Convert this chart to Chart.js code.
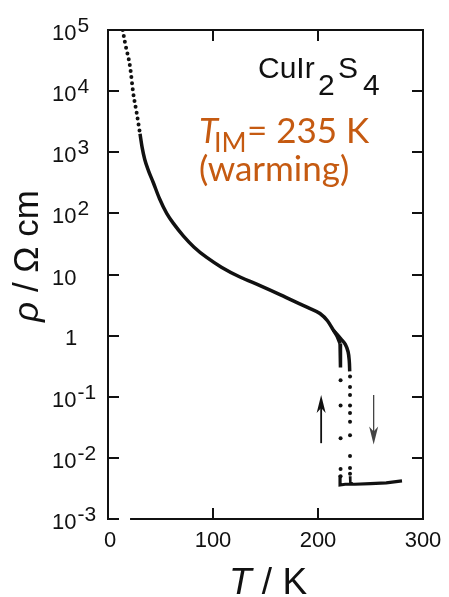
<!DOCTYPE html>
<html><head><meta charset="utf-8">
<script src="https://cdn.jsdelivr.net/npm/chart.js@4.4.1/dist/chart.umd.min.js"></script>
<style>html,body{margin:0;padding:0;background:#fff;overflow:hidden}</style>
</head><body>
<canvas id="c" width="449" height="597"></canvas>
<script>
// ---- data (T in K, rho in ohm cm) ----
const upperT   = [14, 16.2, 21, 24.1, 27.3, 30.5];
const upperRho = [1.0e5, 6.2e4, 2.5e4, 9.1e3, 4.4e3, 2.0e3];

const mainT   = [30.5, 32.5, 35, 38.5, 43.1, 49, 55.9, 63, 71.7, 82, 94.0, 108, 125.7, 144.8, 163.8, 176.5, 190, 201.9, 209, 214.6, 218.5, 221];
const mainRho = [2.0e3, 1.2e3, 7.6e2, 5.0e2, 3.2e2, 1.75e2, 1.0e2, 6.6e1, 4.3e1, 2.8e1, 1.9e1, 1.32e1, 9.1, 6.6, 4.7, 3.7, 2.9, 2.3, 1.75, 1.23, 0.95, 0.74];

const coolSolidT   = [221, 221.3, 221.5];
const coolSolidRho = [0.74, 0.45, 0.30];
const warmSolidT   = [214.6, 222, 226, 228.6, 229.8, 230.2];
const warmSolidRho = [1.23, 0.88, 0.72, 0.55, 0.38, 0.26];

const coolDotT   = [221.5, 221.5, 221.5, 221.5, 221.5];
const coolDotRho = [0.186, 0.072, 0.021, 0.0066, 0.0050];
const warmDotT   = [230.5, 230.5, 230.5, 230.5, 230.5, 230.5, 230.5, 230.5, 230.5, 230.5];
const warmDotRho = [0.214, 0.145, 0.107, 0.072, 0.054, 0.039, 0.0234, 0.0107, 0.0068, 0.0055];

const metalT   = [221, 221, 226, 235, 250, 265, 280];
const metalRho = [0.0052, 0.0036, 0.0037, 0.0037, 0.0038, 0.0039, 0.0042];
const hookT    = [230.5, 230.8, 233];
const hookRho  = [0.0050, 0.0039, 0.0038];

const arrowT    = [203, 253];
const arrowFrom = [0.0174, 0.107];
const arrowTo   = [0.107, 0.0166];

const xTickValues = [0, 100, 200, 300];
const xTickLabels = ['0', '100', '200', '300'];
const yTickValues = [1e-3, 1e-2, 1e-1, 1, 10, 100, 1e3, 1e4, 1e5];
const yTickBase   = ['10', '10', '10', '1', '10', '10', '10', '10', '10'];
const yTickExp    = ['-3', '-2', '-1', '', '', '2', '3', '4', '5'];

const pts = (xs, ys) => xs.map((v, i) => ({x: v, y: ys[i]}));
const INK = '#111';
const ORANGE = '#C55A11';

const deco = {
  id: 'deco',
  afterDraw(chart) {
    const {ctx, chartArea: a, scales: {x, y}} = chart;
    ctx.save();
    ctx.strokeStyle = INK; ctx.fillStyle = INK;
    ctx.lineWidth = 2; ctx.lineCap = 'butt';
    // frame (bottom line has a small gap near the origin)
    ctx.beginPath();
    ctx.moveTo(a.left + 4, a.bottom);
    ctx.lineTo(a.left, a.bottom);
    ctx.lineTo(a.left, a.top);
    ctx.lineTo(a.right, a.top);
    ctx.lineTo(a.right, a.bottom);
    ctx.lineTo(x.getPixelForValue(21), a.bottom);
    ctx.stroke();
    // inward ticks
    const L = 11;
    ctx.beginPath();
    yTickValues.forEach(v => {
      const py = Math.round(y.getPixelForValue(v));
      ctx.moveTo(a.left, py); ctx.lineTo(a.left + L, py);
      ctx.moveTo(a.right, py); ctx.lineTo(a.right - L, py);
    });
    xTickValues.forEach(v => {
      if (v === 0 || v === 300) return;
      const px = Math.round(x.getPixelForValue(v));
      ctx.moveTo(px, a.bottom); ctx.lineTo(px, a.bottom - L);
      ctx.moveTo(px, a.top); ctx.lineTo(px, a.top + L);
    });
    ctx.stroke();
    // y tick labels
    ctx.textAlign = 'left'; ctx.textBaseline = 'alphabetic';
    yTickValues.forEach((v, i) => {
      const py = y.getPixelForValue(v);
      ctx.font = '22px "Liberation Sans", Arial, sans-serif';
      if (yTickBase[i] === '1') {
        ctx.fillText('1', 65, py + 9);
        return;
      }
      const bx = 52;
      ctx.fillText(yTickBase[i], bx, py + 10);
      const w = ctx.measureText(yTickBase[i]).width;
      if (yTickExp[i]) {
        ctx.font = '21px "Liberation Sans", Arial, sans-serif';
        ctx.fillText(yTickExp[i], bx + w + 1, py + 2);
      }
    });
    // x tick labels
    ctx.textAlign = 'center';
    ctx.font = '22px "Liberation Sans", Arial, sans-serif';
    xTickValues.forEach((v, i) => {
      ctx.fillText(xTickLabels[i], x.getPixelForValue(v) + (v === 0 ? 2 : 0), 547);
    });
    // x axis title: T / K
    ctx.textAlign = 'left';
    const f1 = 'italic 37px "Liberation Sans", Arial, sans-serif';
    const f2 = '37px "Liberation Sans", Arial, sans-serif';
    ctx.font = f1; const wT = ctx.measureText('T').width;
    ctx.font = f2; const wR = ctx.measureText(' / K').width;
    let sx = 268 - (wT + wR) / 2;
    ctx.font = f1; ctx.fillText('T', sx, 594);
    ctx.font = f2; ctx.fillText(' / K', sx + wT, 594);
    // y axis title: rho / Ohm cm (rotated)
    ctx.save();
    ctx.translate(38, 256);
    ctx.rotate(-Math.PI / 2);
    const g1 = 'italic 35px "Liberation Sans", Arial, sans-serif';
    const g2 = '35px "Liberation Sans", Arial, sans-serif';
    ctx.font = g1; const wr = ctx.measureText('ρ').width;
    ctx.font = g2; const wo = ctx.measureText(' / Ω cm').width;
    const s0 = -(wr + wo) / 2;
    ctx.font = g1; ctx.fillText('ρ', s0, 0);
    ctx.font = g2; ctx.fillText(' / Ω cm', s0 + wr, 0);
    ctx.restore();
    // compound name CuIr2S4
    ctx.font = '30px "Liberation Sans", Arial, sans-serif';
    ctx.fillText('CuIr', 258, 78);
    ctx.fillText('2', 318, 95);
    ctx.fillText('S', 338, 78);
    ctx.fillText('4', 363, 95);
    // orange annotation
    ctx.fillStyle = ORANGE;
    ctx.font = 'italic 35px Lato, "Open Sans", sans-serif';
    ctx.fillText('T', 199, 143);
    ctx.font = '27px Lato, "Open Sans", sans-serif';
    ctx.fillText('IM', 214, 152);
    ctx.font = '35px Lato, "Open Sans", sans-serif';
    ctx.fillText('= 235 K', 247, 143);
    ctx.fillText('(warming)', 199, 181);
    // arrows
    arrowT.forEach((t, i) => {
      const px = x.getPixelForValue(t);
      const y0 = y.getPixelForValue(arrowFrom[i]);
      const y1 = y.getPixelForValue(arrowTo[i]);
      const dir = y1 < y0 ? -1 : 1;
      ctx.strokeStyle = i === 0 ? INK : '#444';
      ctx.fillStyle = i === 0 ? INK : '#444';
      ctx.lineWidth = i === 0 ? 1.8 : 1.3;
      ctx.beginPath(); ctx.moveTo(px, y0); ctx.lineTo(px, y1 - dir * 8); ctx.stroke();
      ctx.beginPath();
      ctx.moveTo(px, y1);
      ctx.lineTo(px - 4.5, y1 - dir * 18);
      ctx.lineTo(px, y1 - dir * 13);
      ctx.lineTo(px + 4.5, y1 - dir * 18);
      ctx.closePath(); ctx.fill();
    });
    ctx.restore();
  }
};

const lineDs = (data, extra) => Object.assign({
  data, showLine: true, borderColor: INK, backgroundColor: INK,
  borderWidth: 3.5, pointRadius: 0, tension: 0
}, extra || {});
const dotDs = (data) => ({
  data, showLine: false, pointRadius: 2, pointBackgroundColor: INK,
  pointBorderWidth: 0, pointStyle: 'circle'
});

new Chart(document.getElementById('c'), {
  type: 'scatter',
  data: {
    datasets: [
      lineDs(pts(upperT, upperRho), {borderDash: [0, 6], borderCapStyle: 'round', borderWidth: 4, cubicInterpolationMode: 'monotone'}),
      lineDs(pts(mainT, mainRho), {cubicInterpolationMode: 'monotone'}),
      lineDs(pts(coolSolidT, coolSolidRho)),
      lineDs(pts(warmSolidT, warmSolidRho), {tension: 0.4}),
      dotDs(pts(coolDotT, coolDotRho)),
      dotDs(pts(warmDotT, warmDotRho)),
      lineDs(pts(metalT, metalRho), {borderWidth: 3.2}),
      lineDs(pts(hookT, hookRho), {borderWidth: 2.5})
    ]
  },
  options: {
    responsive: false, animation: false, devicePixelRatio: 1,
    layout: {padding: {left: 108, right: 26, top: 30, bottom: 78}},
    plugins: {legend: {display: false}, tooltip: {enabled: false}},
    scales: {
      x: {type: 'linear', min: 0, max: 300, display: false},
      y: {type: 'logarithmic', min: 1e-3, max: 1e5, display: false}
    }
  },
  plugins: [deco]
});
</script>
</body></html>
